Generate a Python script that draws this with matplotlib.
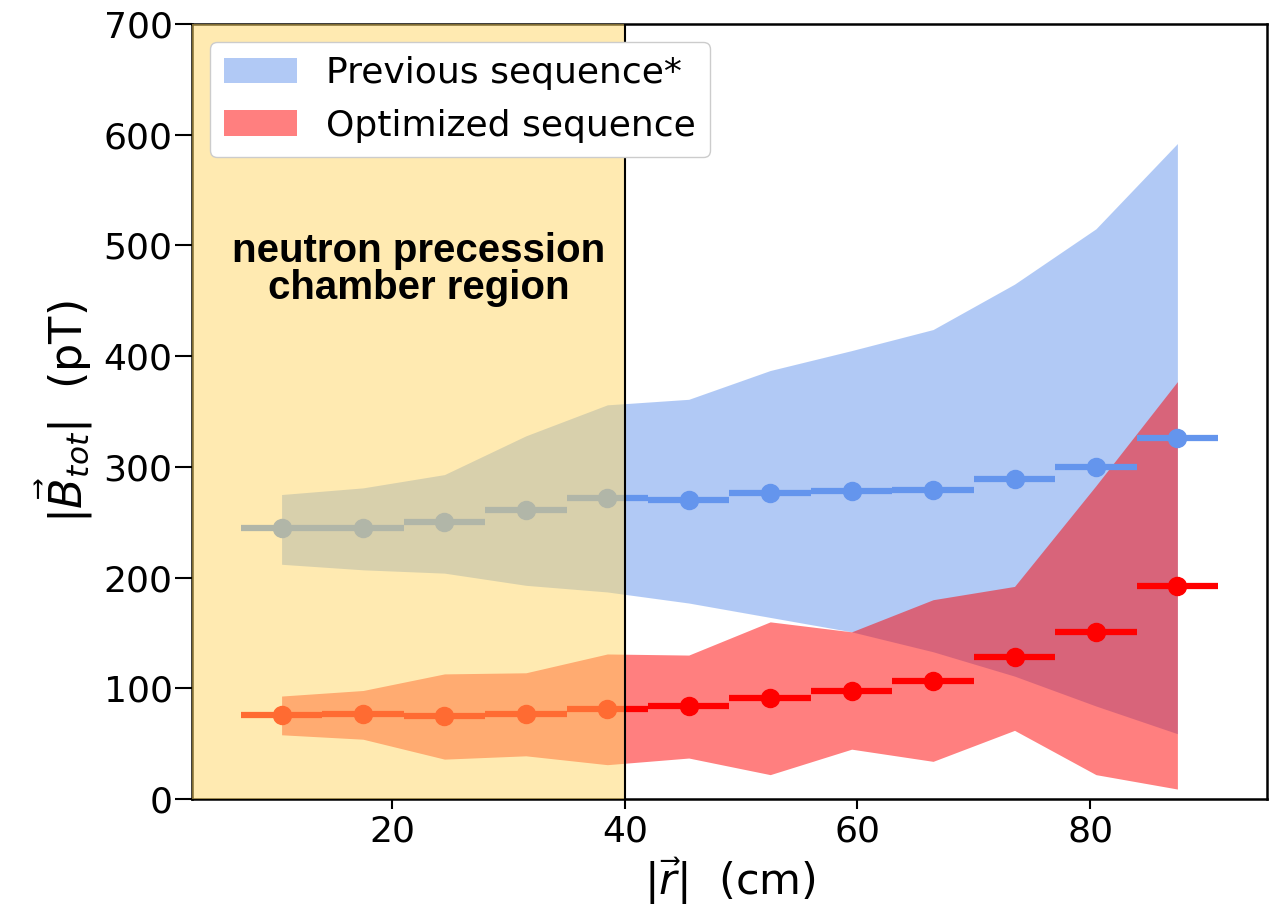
import numpy as np
import matplotlib
matplotlib.use('Agg')
import matplotlib.pyplot as plt

# bin centres in |r| (cm), half-width of each bin
r = [10.5, 17.5, 24.5, 31.5, 38.5, 45.5, 52.5, 59.5, 66.5, 73.5, 80.5, 87.5]
r_half = 3.5

# previous sequence: mean and band
prev_mean = [245, 245, 250, 261, 272, 270, 276, 278, 279, 289, 300, 326]
prev_lo = [212, 207, 204, 193, 187, 177, 164, 151, 133, 111, 84, 59]
prev_hi = [275, 281, 293, 328, 356, 361, 387, 405, 424, 465, 515, 592]

# optimized sequence: mean and band
opt_mean = [76, 77, 75, 77, 81, 84, 91, 98, 107, 128, 151, 192]
opt_lo = [58, 54, 36, 39, 31, 37, 22, 45, 34, 62, 22, 9]
opt_hi = [93, 98, 113, 114, 131, 130, 160, 151, 180, 192, 283, 377]

chamber_edge = 40

fig = plt.figure(figsize=(12.69, 9.22), dpi=100)
ax = fig.add_axes([0.1513, 0.1334, 0.8471, 0.8406])

ax.fill_between(r, prev_lo, prev_hi, color='cornflowerblue', alpha=0.5,
                lw=0, label='Previous sequence*')
ax.fill_between(r, opt_lo, opt_hi, color='red', alpha=0.5,
                lw=0, label='Optimized sequence')
ax.errorbar(r, prev_mean, xerr=r_half, fmt='o', color='cornflowerblue',
            ms=13, elinewidth=4.5, capsize=0)
ax.errorbar(r, opt_mean, xerr=r_half, fmt='o', color='red',
            ms=13, elinewidth=4.5, capsize=0)

ax.set_xlim(2.8, 95.2)
ax.set_ylim(0, 700)

# chamber region overlay
ax.axvspan(ax.get_xlim()[0], chamber_edge, color='#FFD764', alpha=0.5, lw=0, zorder=4)
ax.axvline(chamber_edge, color='k', lw=1.5, zorder=5)
ax.text(22.3, 478, 'neutron precession\nchamber region', ha='center', va='center',
        fontsize=29, fontweight='bold', family='Liberation Sans', zorder=6,
        linespacing=0.98)

ax.set_xticks([20, 40, 60, 80])
ax.tick_params(labelsize=26, width=1.5)
ax.tick_params(axis='x', length=7.5, pad=4)
ax.tick_params(axis='y', length=12, pad=2)
for s in ax.spines.values():
    s.set_linewidth(1.8)
ax.set_xlabel(r'$|\vec{r}|\ $ (cm)', fontsize=31, labelpad=4)
ax.set_ylabel(r'$|\vec{B}_{tot}|\ $ (pT)', fontsize=32, labelpad=6)

leg = ax.legend(loc='upper left', fontsize=26, handlelength=2.0, framealpha=1)
leg.set_zorder(10)

fig.savefig('out.png', dpi=100)
